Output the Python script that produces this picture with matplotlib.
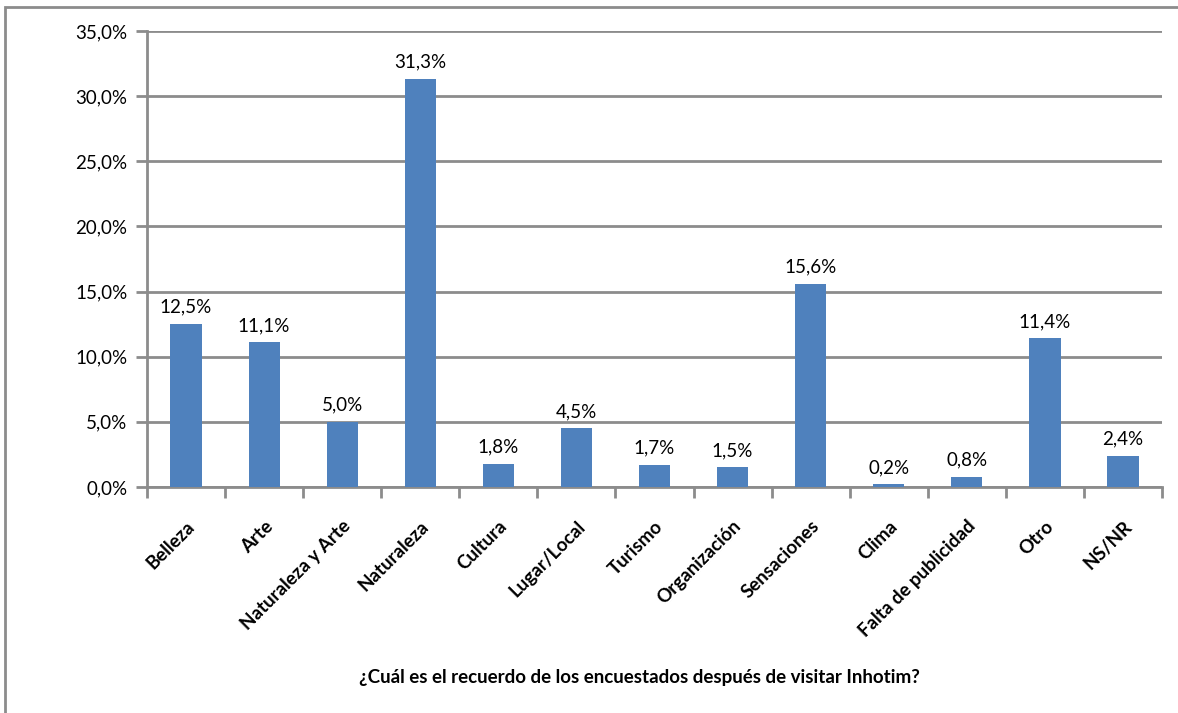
import matplotlib.pyplot as plt
from matplotlib.patches import Rectangle
from matplotlib.ticker import FuncFormatter, MultipleLocator

plt.rcParams['font.family'] = ['Lato', 'DejaVu Sans']

categorias = ["Belleza", "Arte", "Naturaleza y Arte", "Naturaleza", "Cultura",
              "Lugar/Local", "Turismo", "Organización", "Sensaciones", "Clima",
              "Falta de publicidad", "Otro", "NS/NR"]
porcentajes = [12.5, 11.1, 5.0, 31.3, 1.8, 4.5, 1.7, 1.5, 15.6, 0.2, 0.8, 11.4, 2.4]
titulo_x = "¿Cuál es el recuerdo de los encuestados después de visitar Inhotim?"

W, H = 1178, 713
fig = plt.figure(figsize=(W / 100, H / 100), dpi=100)
ax = fig.add_axes([147 / W, 1 - 487 / H, (1162 - 147) / W, (487 - 31) / H])

gris = "#8c8c8c"
x = range(len(categorias))
ax.bar(x, porcentajes, width=0.4, color="#4f81bd", zorder=3)

for xi, v in zip(x, porcentajes):
    ax.annotate(f"{v:.1f}%".replace(".", ","), (xi, v), xytext=(0, 6),
                textcoords="offset points", ha="center", va="bottom", fontsize=13.5)

ax.set_xlim(-0.5, len(categorias) - 0.5)
ax.set_ylim(0, 35)
ax.yaxis.set_major_locator(MultipleLocator(5))
ax.yaxis.set_major_formatter(FuncFormatter(lambda v, p: f"{v:.1f}%".replace(".", ",")))
ax.grid(axis="y", color=gris, linewidth=2, zorder=0)

# ticks del eje x en los limites de categoria
ax.set_xticks([i - 0.5 for i in range(len(categorias) + 1)])
ax.set_xticklabels([])
ax.set_xticks(list(x), minor=True)
ax.set_xticklabels(categorias, minor=True, rotation=45, ha="right",
                   rotation_mode="anchor", fontweight="bold", fontsize=13.5)
ax.tick_params(axis="x", which="minor", length=0, pad=22)
ax.tick_params(axis="x", which="major", length=8, width=2, color=gris)
ax.tick_params(axis="y", length=8, width=2, color=gris, labelsize=13.5, pad=6)

for lado in ["top", "right"]:
    ax.spines[lado].set_visible(False)
for lado in ["left", "bottom"]:
    ax.spines[lado].set_color(gris)
    ax.spines[lado].set_linewidth(2)

fig.text(639 / W, 1 - 677 / H, titulo_x, ha="center", va="center",
         fontweight="bold", fontsize=13.5)

# marco exterior del grafico
fig.patches.append(Rectangle((5 / W, -0.05), 1.2, (H - 7) / H + 0.05,
                             transform=fig.transFigure, fill=False,
                             edgecolor=gris, linewidth=2))

fig.savefig("out.png", dpi=100)
